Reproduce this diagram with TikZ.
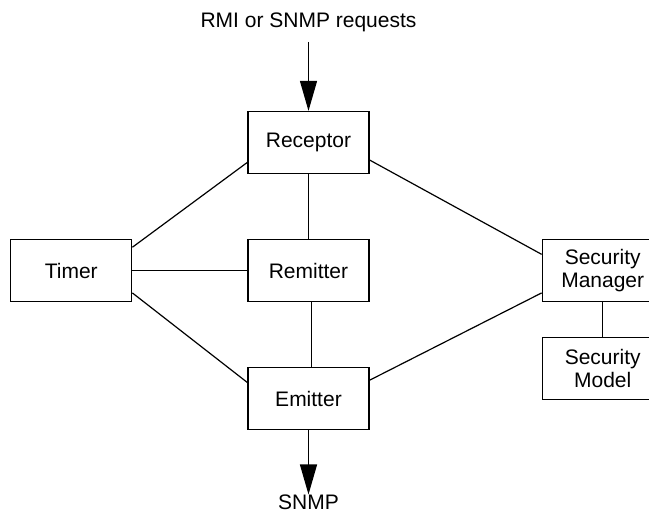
\documentclass[tikz,border=0pt]{standalone}
\usepackage{fontspec}
\setmainfont{Liberation Sans}
\usepackage{tikz}
\usetikzlibrary{arrows.meta,calc,positioning}

\begin{document}
\begin{tikzpicture}[
    line width=0.6pt,
    font=\fontsize{10.5}{12.5}\selectfont,
    node distance=32.5pt and 57.5pt,
    v/.style={draw,minimum width=60.5pt,minimum height=31pt,align=center,inner sep=1pt},
    lbl/.style={inner sep=0pt}
  ]
    \clip (0,0) rectangle (324.5pt,-256.5pt);
    \node[v] (rec) at (154.25pt,-71.25pt) {Receptor};
    \node[v,below=of rec] (rem) {Remitter};
    \node[v,below=of rem] (emi) {Emitter};
    \node[v,left=of rem] (tim) {Timer};
    \node[v,right=86pt of rem] (smgr) {Security\\[-1pt]Manager};
    \node[v,below=17.5pt of smgr] (smod) {Security\\[-1pt]Model};
    \coordinate[above=34.5pt of rec.north] (in);
    \coordinate[below=32pt of emi.south] (out);
    \node[lbl,above=7pt of in,anchor=base] (req) {RMI or SNMP requests};
    \node[lbl,below=7.5pt of out,anchor=base] (snmp) {SNMP};
    \draw[-{Triangle[length=15pt,width=8.5pt]}] (in) -- (rec.north);
    \draw[-{Triangle[length=15pt,width=8.5pt]}] (emi.south) -- (out);
    \draw (rec) -- (rem);
    \draw ([xshift=1.5pt]rem.south) -- ([xshift=1.5pt]emi.north);
    \draw (tim.east) -- (rem.west);
    \draw (tim.21) -- (rec.198);
    \draw (tim.-20) -- (emi.165);
    \draw (rec.-16) -- (smgr.165);
    \draw (emi.17) -- (smgr.200);
    \draw (smgr) -- (smod);
  \end{tikzpicture}
\end{document}
